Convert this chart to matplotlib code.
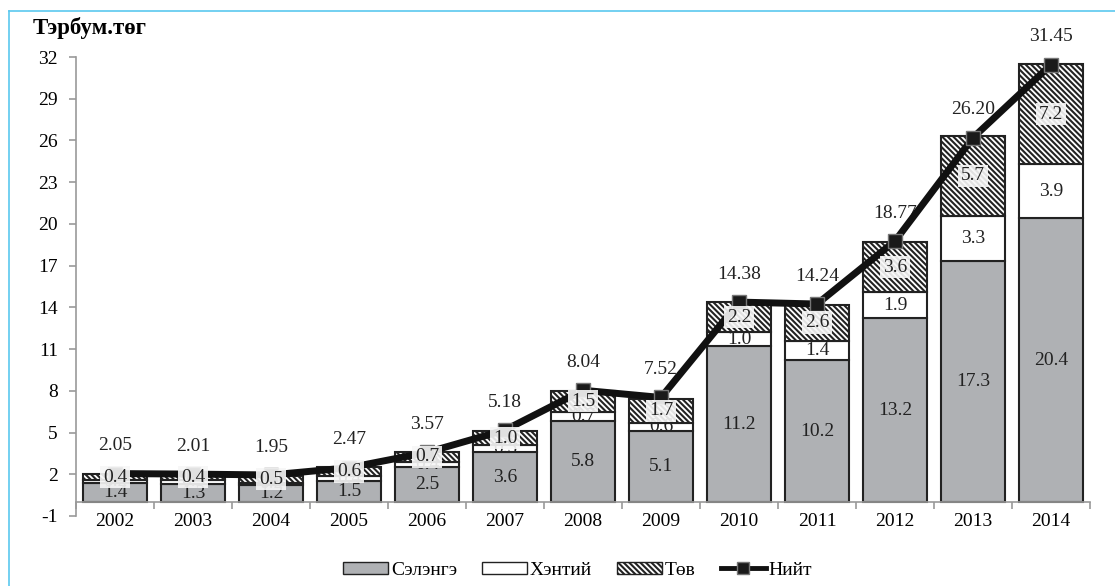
import matplotlib.pyplot as plt
from matplotlib.patches import Patch
from matplotlib.lines import Line2D
import numpy as np

plt.rcParams['font.family'] = ['Liberation Serif', 'DejaVu Serif']
plt.rcParams['hatch.linewidth'] = 1.5
plt.rcParams['axes.unicode_minus'] = False

years = ['2002', '2003', '2004', '2005', '2006', '2007', '2008',
         '2009', '2010', '2011', '2012', '2013', '2014']
selenge = [1.4, 1.3, 1.2, 1.5, 2.5, 3.6, 5.8, 5.1, 11.2, 10.2, 13.2, 17.3, 20.4]
khentii = [0.2, 0.3, 0.2, 0.4, 0.4, 0.5, 0.7, 0.6, 1.0, 1.4, 1.9, 3.3, 3.9]
tov = [0.4, 0.4, 0.5, 0.6, 0.7, 1.0, 1.5, 1.7, 2.2, 2.6, 3.6, 5.7, 7.2]
total = [2.05, 2.01, 1.95, 2.47, 3.57, 5.18, 8.04, 7.52, 14.38, 14.24, 18.77, 26.20, 31.45]

gray = '#afb1b4'
edge = '#222222'
hatch = '\\' * 6
x = np.arange(len(years))
w = 0.82
fs = 14

fig = plt.figure(figsize=(11.15, 5.86), dpi=100)
ax = fig.add_axes([0.0682, 0.1195, 0.9094, 0.7832])

ax.bar(x, selenge, w, color=gray, edgecolor=edge, linewidth=1.5, zorder=2)
ax.bar(x, khentii, w, bottom=selenge, color='white', edgecolor=edge, linewidth=1.5, zorder=2)
bot3 = np.array(selenge) + np.array(khentii)
ax.bar(x, tov, w, bottom=bot3, color='white', edgecolor=edge, hatch=hatch,
       linewidth=1.5, zorder=2)

# segment labels
for i in range(len(years)):
    ax.text(x[i], selenge[i] / 2, f'{selenge[i]:.1f}', ha='center', va='center',
            fontsize=fs, color='#222222', zorder=3)
    ax.text(x[i], selenge[i] + khentii[i] / 2, f'{khentii[i]:.1f}', ha='center', va='center',
            fontsize=fs, color='#222222', zorder=3)
    ax.text(x[i], bot3[i] + tov[i] / 2, f'{tov[i]:.1f}', ha='center', va='center',
            fontsize=fs, color='#222222', zorder=5,
            bbox=dict(facecolor='#f7f7f7', edgecolor='none', alpha=0.9, pad=2))

ax.plot(x, total, color='#111111', linewidth=5, marker='s', markersize=10,
        markerfacecolor='#1a1a1a', markeredgecolor='#777777', markeredgewidth=1, zorder=4)
for i in range(len(years)):
    ax.annotate(f'{total[i]:.2f}', (x[i], total[i]), xytext=(0, 14), textcoords='offset points',
                ha='center', va='bottom', fontsize=fs, color='#222222')

ax.set_xlim(-0.5, len(years) - 0.5)
ax.set_ylim(-1, 32)
ax.set_yticks(np.arange(-1, 33, 3))
ax.set_xticks(x)
ax.set_xticklabels(years)
ax.set_xticks(np.arange(-0.5, len(years), 1), minor=True)
ax.tick_params(axis='x', which='major', length=0, pad=8, labelsize=fs)
ax.tick_params(axis='x', which='minor', length=5, color='#999999', width=1.2)
ax.tick_params(axis='y', length=5, color='#999999', width=1.2, labelsize=fs, pad=8)

for s in ['top', 'right']:
    ax.spines[s].set_visible(False)
ax.spines['bottom'].set_position(('data', 0))
ax.spines['bottom'].set_color('#999999')
ax.spines['left'].set_color('#999999')
ax.spines['bottom'].set_linewidth(1.2)
ax.spines['left'].set_linewidth(1.2)

fig.text(0.029, 0.952, 'Тэрбум.төг', fontsize=16.5, fontweight='bold', ha='left', va='center')

handles = [Patch(facecolor=gray, edgecolor=edge, label='Сэлэнгэ'),
           Patch(facecolor='white', edgecolor=edge, label='Хэнтий'),
           Patch(facecolor='white', edgecolor=edge, hatch=hatch, label='Төв'),
           Line2D([0], [0], color='#111111', linewidth=3.5, marker='s', markersize=9,
                  markerfacecolor='#1a1a1a', markeredgecolor='#777777', label='Нийт')]
fig.legend(handles=handles, loc='center', bbox_to_anchor=(0.518, 0.027), ncol=4, frameon=False,
           prop={'family': 'Liberation Serif', 'size': fs},
           handlelength=2.3, handleheight=0.6, handletextpad=0.15, columnspacing=1.3)

# light blue frame
fig.add_artist(Line2D([0.008, 0.008], [0.0, 0.981], color='#5bc8ef', linewidth=1.2))
fig.add_artist(Line2D([0.008, 1.0], [0.981, 0.981], color='#5bc8ef', linewidth=1.2))

fig.savefig('out.png', dpi=100)
